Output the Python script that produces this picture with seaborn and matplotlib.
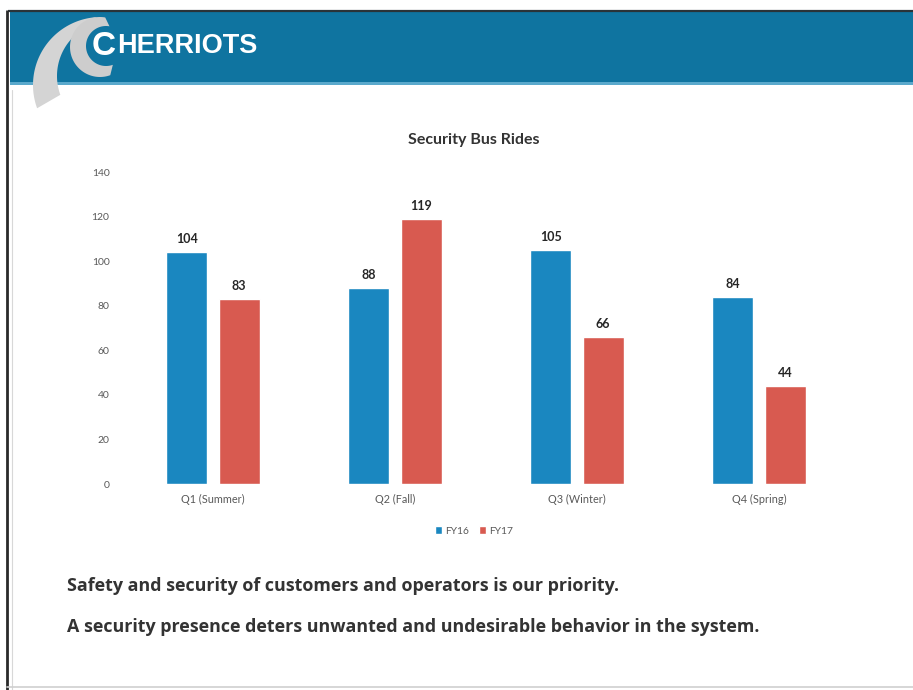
import numpy as np
import pandas as pd
import matplotlib
matplotlib.use("Agg")
import matplotlib.pyplot as plt
from matplotlib.patches import Rectangle, Polygon
import seaborn as sns

# Security bus rides per quarter, two fiscal years
quarters = ["Q1 (Summer)", "Q2 (Fall)", "Q3 (Winter)", "Q4 (Spring)"]
fy16 = [104, 88, 105, 84]
fy17 = [83, 119, 66, 44]
years = ["FY16", "FY17"]
yticks = [0, 20, 40, 60, 80, 100, 120, 140]

df = pd.DataFrame({
    "quarter": quarters * 2,
    "rides": fy16 + fy17,
    "year": [years[0]] * len(quarters) + [years[1]] * len(quarters),
})

sns.set_style("white")
plt.rcParams["font.family"] = ["Lato", "DejaVu Sans"]

W, H = 913, 690
fig = plt.figure(figsize=(W / 100, H / 100), dpi=100)
fig.patch.set_facecolor("white")

# ---- slide decoration layer (pixel coordinates, y measured from top) ----
deco = fig.add_axes([0, 0, 1, 1], zorder=0)
deco.set_xlim(0, W)
deco.set_ylim(H, 0)
deco.axis("off")

band_color = "#0f74a0"
deco.add_patch(Rectangle((10, 12), W - 10, 71, color=band_color, lw=0))
deco.add_patch(Rectangle((10, 82), W - 10, 2.5, color="#5aa9cc", lw=0))
deco.plot([8, W], [11, 11], color="#2a3338", lw=1.6, solid_capstyle="butt")
deco.plot([7, 7], [10, H], color="#2a2a2a", lw=2.0, solid_capstyle="butt")
deco.plot([12, 12], [90, H], color="#d8d8d8", lw=0.8)
deco.plot([7, W], [687, 687], color="#cfcfcf", lw=1.2)


def crescent(cx_o, cy_o, r_o, cx_i, cy_i, r_i, a0, a1, n=80):
    """Polygon between an outer and an inner arc (angles in degrees,
    screen convention: 0 = right, 90 = up)."""
    t = np.radians(np.linspace(a0, a1, n))
    outer = np.c_[cx_o + r_o * np.cos(t), cy_o - r_o * np.sin(t)]
    inner = np.c_[cx_i + r_i * np.cos(t[::-1]), cy_i - r_i * np.sin(t[::-1])]
    return np.vstack([outer, inner])


# logo swooshes
deco.add_patch(Polygon(crescent(101, 85, 68, 112, 76, 55, 95, 200),
                       closed=True, color="#d4d4d4", lw=0, zorder=3))
deco.add_patch(Polygon(crescent(100, 47, 30, 106, 46, 20, 80, 290),
                       closed=True, color="#cdcdcd", lw=0, zorder=3))

logo_font = ["Liberation Sans", "DejaVu Sans"]
deco.text(92, 55, "C", color="white", fontsize=24, fontweight="bold",
          family=logo_font, va="baseline", ha="left", zorder=4)
deco.text(117, 53, "HERRIOTS", color="white", fontsize=19.5, fontweight="bold",
          family=logo_font, va="baseline", ha="left", zorder=4)

# ---- chart ----
left, right, top, bottom = 122, 850, 172, 484
ax = fig.add_axes([left / W, 1 - bottom / H, (right - left) / W, (bottom - top) / H], zorder=2)
ax.patch.set_alpha(0)

palette = {"FY16": "#1a87c0", "FY17": "#d85a50"}
sns.barplot(data=df, x="quarter", y="rides", hue="year", palette=palette,
            order=quarters, hue_order=years, width=0.572, gap=0.213,
            saturation=1, ax=ax, legend=True)

for cont in ax.containers:
    ax.bar_label(cont, fmt="%d", padding=5, fontsize=9, fontweight="bold", color="#262626")

ax.set_ylim(0, 140)
ax.set_xlim(-0.5, len(quarters) - 0.5)
ax.set_yticks(yticks)
ax.set_yticklabels([str(v) for v in yticks])
ax.tick_params(axis="y", length=0, pad=9, labelsize=7.5, labelcolor="#595959")
ax.tick_params(axis="x", length=0, pad=7, labelsize=7.8, labelcolor="#595959")
ax.set_xlabel("")
ax.set_ylabel("")
for s in ax.spines.values():
    s.set_visible(False)
ax.grid(False)

handles, labels = ax.get_legend_handles_labels()
ax.get_legend().remove()
fig.legend(handles, labels, loc="center", bbox_to_anchor=(474 / W, 1 - 531 / H),
           ncol=2, frameon=False, fontsize=7.4, handlelength=0.7, handleheight=0.7,
           handletextpad=0.3, columnspacing=0.9, labelcolor="#595959")

fig.text(474 / W, 1 - 140 / H, "Security Bus Rides", ha="center", va="center",
         fontsize=11.5, fontweight="bold", color="#333333")

# ---- slide body text ----
body_font = ["Open Sans", "DejaVu Sans"]
fig.text(67 / W, 1 - 586 / H, "Safety and security of customers and operators is our priority.",
         ha="left", va="center", fontsize=12.85, fontweight="bold", color="#333333", family=body_font)
fig.text(67 / W, 1 - 627 / H,
         "A security presence deters unwanted and undesirable behavior in the system.",
         ha="left", va="center", fontsize=12.85, fontweight="bold", color="#333333", family=body_font)

fig.savefig("out.png", dpi=100, facecolor="white")
